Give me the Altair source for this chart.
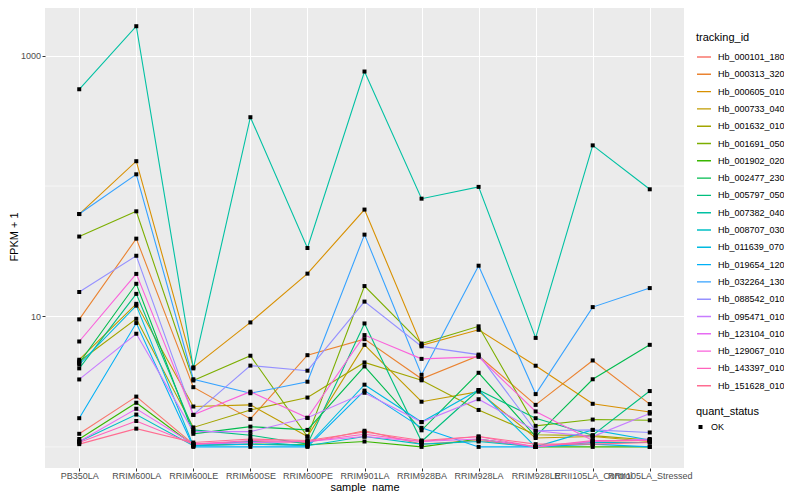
import altair as alt
import pandas as pd

samples = ["PB350LA", "RRIM600LA", "RRIM600LE", "RRIM600SE", "RRIM600PE", "RRIM901LA",
           "RRIM928BA", "RRIM928LA", "RRIM928LE", "RRII105LA_Control", "RRII105LA_Stressed"]

ids = ["Hb_000101_180", "Hb_000313_320", "Hb_000605_010", "Hb_000733_040", "Hb_001632_010",
       "Hb_001691_050", "Hb_001902_020", "Hb_002477_230", "Hb_005797_050", "Hb_007382_040",
       "Hb_008707_030", "Hb_011639_070", "Hb_019654_120", "Hb_032264_130", "Hb_088542_010",
       "Hb_095471_010", "Hb_123104_010", "Hb_129067_010", "Hb_143397_010", "Hb_151628_010"]

colors = ["#F8766D", "#EA8331", "#D89000", "#C09B00", "#A3A500", "#7CAE00", "#39B600", "#00BB4E",
          "#00BF7D", "#00C1A3", "#00BFC4", "#00BAE0", "#00B0F6", "#35A2FF", "#9590FF", "#C77CFF",
          "#E76BF3", "#FA62DB", "#FF62BC", "#FF6C91"]

# FPKM + 1 per sample (order of `samples`)
hb_000101_180 = [1.26, 2.43, 1.05, 1.10, 1.08, 1.33, 1.05, 1.12, 1.00, 1.10, 1.12]
hb_000313_320 = [9.5, 39.5, 2.87, 1.64, 5.05, 6.7, 3.33, 5.0, 2.1, 4.6, 2.13]
hb_000605_010 = [61.0, 155.0, 4.07, 9.0, 21.3, 66.0, 6.0, 7.9, 4.19, 2.14, 1.85]
hb_000733_040 = [4.66, 12.5, 2.04, 2.10, 1.20, 6.06, 2.22, 2.65, 1.17, 1.20, 1.10]
hb_001632_010 = [4.52, 9.6, 1.41, 1.92, 2.39, 4.44, 3.24, 1.92, 1.24, 1.22, 1.13]
hb_001691_050 = [41.0, 64.0, 3.23, 5.0, 1.20, 17.1, 6.2, 8.4, 1.45, 1.62, 1.60]
hb_001902_020 = [1.15, 2.18, 1.03, 1.05, 1.04, 1.10, 1.00, 1.15, 1.00, 1.00, 1.00]
hb_002477_230 = [4.40, 17.8, 1.26, 1.43, 1.35, 4.14, 1.34, 3.70, 1.20, 3.30, 6.06]
hb_005797_050 = [4.00, 14.9, 1.35, 1.23, 1.05, 8.84, 1.10, 2.73, 1.66, 1.23, 2.68]
hb_007382_040 = [552.0, 1680.0, 4.0, 337.0, 33.5, 755.0, 80.0, 98.5, 6.85, 205.0, 94.4]
hb_008707_030 = [1.10, 1.77, 1.02, 1.10, 1.02, 1.20, 1.05, 1.10, 1.00, 1.08, 1.08]
hb_011639_070 = [4.30, 12.1, 1.02, 1.05, 1.02, 3.00, 1.55, 2.73, 1.00, 1.35, 1.13]
hb_019654_120 = [1.66, 8.9, 1.00, 1.00, 1.00, 2.70, 1.40, 1.00, 1.00, 1.05, 1.00]
hb_032264_130 = [61.0, 123.0, 3.30, 2.58, 3.16, 42.4, 3.57, 24.5, 2.54, 11.8, 16.5]
hb_088542_010 = [15.4, 29.2, 1.76, 4.20, 3.84, 13.0, 5.9, 5.1, 1.33, 1.35, 1.29]
hb_095471_010 = [3.29, 7.37, 1.31, 1.31, 1.67, 2.60, 1.55, 2.32, 1.33, 1.20, 1.80]
hb_123104_010 = [1.10, 1.96, 1.05, 1.08, 1.10, 1.20, 1.10, 1.15, 1.00, 1.10, 1.15]
hb_129067_010 = [6.43, 21.2, 1.76, 2.65, 1.67, 7.2, 4.73, 4.9, 1.87, 1.12, 1.12]
hb_143397_010 = [1.08, 1.58, 1.05, 1.12, 1.10, 1.25, 1.10, 1.20, 1.00, 1.12, 1.12]
hb_151628_010 = [1.05, 1.38, 1.08, 1.15, 1.12, 1.30, 1.12, 1.20, 1.05, 1.05, 1.08]

series = [hb_000101_180, hb_000313_320, hb_000605_010, hb_000733_040, hb_001632_010,
          hb_001691_050, hb_001902_020, hb_002477_230, hb_005797_050, hb_007382_040,
          hb_008707_030, hb_011639_070, hb_019654_120, hb_032264_130, hb_088542_010,
          hb_095471_010, hb_123104_010, hb_129067_010, hb_143397_010, hb_151628_010]

y_major = [10, 1000]
y_minor = [1, 100]

rows = []
for tid, vals in zip(ids, series):
    for s, v in zip(samples, vals):
        rows.append({"sample_name": s, "tracking_id": tid, "fpkm1": v, "quant_status": "OK"})
df = pd.DataFrame(rows)
minor_df = pd.DataFrame({"fpkm1": y_minor})

yscale = alt.Scale(type="log", domain=[0.689, 2443], nice=False)
yaxis = alt.Axis(values=y_major, format="d", title="FPKM + 1", grid=True,
                 labelPadding=1.5, titlePadding=1)
xenc = alt.X("sample_name:N", sort=samples,
             scale=alt.Scale(type="point", padding=0.6),
             axis=alt.Axis(title="sample_name", labelAngle=0, grid=True, labelOverlap=False,
                           labelFlush=False, labelBound=False, labelPadding=0, titlePadding=1))

minor = alt.Chart(minor_df).mark_rule(color="white", strokeWidth=0.55).encode(
    y=alt.Y("fpkm1:Q", scale=yscale, axis=yaxis)
)

lines = alt.Chart(df).mark_line(strokeWidth=1.1).encode(
    x=xenc,
    y=alt.Y("fpkm1:Q", scale=yscale, axis=yaxis),
    color=alt.Color("tracking_id:N", scale=alt.Scale(domain=ids, range=colors),
                    legend=alt.Legend(title="tracking_id", orient="none", legendX=651, legendY=27,
                                      symbolType="stroke", symbolSize=196, symbolStrokeWidth=1.4,
                                      labelFontSize=9, titleFontSize=11, titleFontWeight="normal",
                                      labelColor="black", titleColor="black", titlePadding=6,
                                      rowPadding=1.3, clipHeight=16, labelOffset=6, padding=0)),
    detail="tracking_id:N",
)

points = alt.Chart(df).mark_point(filled=True, size=16, opacity=1).encode(
    x=xenc,
    y=alt.Y("fpkm1:Q", scale=yscale, axis=yaxis),
    shape=alt.Shape("quant_status:N", scale=alt.Scale(range=["square"]),
                    legend=alt.Legend(title="quant_status", orient="none", legendX=651, legendY=401,
                                      labelFontSize=9, titleFontSize=11, titleFontWeight="normal",
                                      labelColor="black", titleColor="black", titlePadding=2,
                                      symbolSize=16, symbolFillColor="black", symbolStrokeColor="black",
                                      clipHeight=16, labelOffset=6, padding=0)),
    color=alt.value("black"),
)

chart = alt.layer(minor, lines, points).properties(
    width=639, height=463,
    autosize=alt.AutoSizeParams(type="none"),
    padding={"left": 37, "top": -3, "right": 100, "bottom": 24},
).configure(
    font="Liberation Sans",
).configure_view(
    fill="#EBEBEB", stroke=None,
).configure_axis(
    domain=False, tickColor="#333333", tickSize=3, tickWidth=1,
    labelColor="#4D4D4D", labelFontSize=9,
    titleFontSize=11, titleFontWeight="normal", titleColor="black",
    gridColor="white", gridWidth=1.05,
)

chart.save("out.html", embed_options={"renderer": "svg", "actions": False})
